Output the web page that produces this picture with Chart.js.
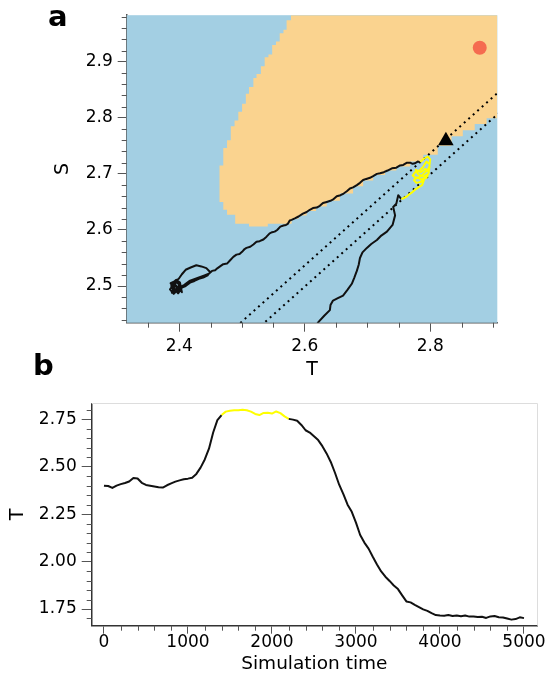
<!DOCTYPE html>
<html>
<head>
<meta charset="utf-8">
<script src="https://cdn.jsdelivr.net/npm/chart.js@4.4.1/dist/chart.umd.min.js"></script>
<style>
	html, body { margin: 0; padding: 0; background: #fff; }
	#wrap { position: relative; width: 548px; height: 682px; overflow: hidden; }
	canvas { position: absolute; left: 0; }
	.tag { position: absolute; font: bold 29px "DejaVu Sans"; line-height: 29px; color: #000; }
</style>
</head>
<body>
<div id="wrap">
	<canvas id="phase" width="548" height="385" style="top:0"></canvas>
	<canvas id="series" width="548" height="297" style="top:385px"></canvas>
	<div class="tag" style="left:48px; top:2px">a</div>
	<div class="tag" style="left:33px; top:351px">b</div>
</div>
<script>
// ---- panel a: phase plane (T, S) ----
const phaseTicksT = [2.4, 2.6, 2.8];
const phaseTicksS = [2.5, 2.6, 2.7, 2.8, 2.9];

// orange region (other basin), traced along its edge
const regionT = [2.578, 2.907, 2.907, 2.890, 2.871, 2.852, 2.834, 2.812, 2.789, 2.768, 2.746, 2.728, 2.709,
	2.693, 2.677, 2.656, 2.635, 2.618, 2.603, 2.590, 2.579, 2.571, 2.541, 2.541, 2.511, 2.511, 2.489, 2.489,
	2.476, 2.476, 2.470, 2.470, 2.464, 2.464, 2.470, 2.470, 2.476, 2.476, 2.482, 2.482, 2.488, 2.488, 2.494,
	2.494, 2.500, 2.500, 2.506, 2.506, 2.511, 2.511, 2.518, 2.518, 2.523, 2.523, 2.530, 2.530, 2.536, 2.536,
	2.542, 2.542, 2.548, 2.548, 2.554, 2.554, 2.560, 2.560, 2.566, 2.566, 2.571, 2.571, 2.578, 2.578];
const regionS = [2.983, 2.983, 2.805, 2.799, 2.789, 2.778, 2.767, 2.750, 2.734, 2.722, 2.713, 2.706, 2.698,
	2.688, 2.678, 2.665, 2.652, 2.642, 2.634, 2.626, 2.620, 2.611, 2.611, 2.606, 2.606, 2.611, 2.611, 2.627,
	2.627, 2.636, 2.636, 2.650, 2.650, 2.715, 2.715, 2.746, 2.746, 2.760, 2.760, 2.785, 2.785, 2.795, 2.795,
	2.811, 2.811, 2.825, 2.825, 2.843, 2.843, 2.855, 2.855, 2.871, 2.871, 2.878, 2.878, 2.892, 2.892, 2.908,
	2.908, 2.913, 2.913, 2.930, 2.930, 2.936, 2.936, 2.951, 2.951, 2.957, 2.957, 2.974, 2.974, 2.983];

// trajectory before, during (yellow) and after the plateau
const approachT = [2.398, 2.393, 2.389, 2.395, 2.388, 2.392, 2.386, 2.394, 2.400, 2.397, 2.391, 2.385, 2.390,
	2.396, 2.402, 2.397, 2.389, 2.393, 2.399, 2.404, 2.401, 2.395, 2.387, 2.392, 2.398, 2.404, 2.410, 2.417,
	2.424, 2.431, 2.438, 2.445, 2.449, 2.443, 2.435, 2.427, 2.418, 2.410, 2.404, 2.399, 2.391, 2.387, 2.393,
	2.401, 2.408, 2.416, 2.428, 2.440, 2.447, 2.452, 2.457, 2.461, 2.466, 2.470, 2.476, 2.481, 2.486, 2.491,
	2.496, 2.500, 2.504, 2.507, 2.513, 2.518, 2.523, 2.528, 2.534, 2.539, 2.544, 2.548, 2.552, 2.556, 2.561,
	2.566, 2.570, 2.573, 2.576, 2.579, 2.585, 2.590, 2.597, 2.603, 2.608, 2.613, 2.619, 2.624, 2.629, 2.635,
	2.641, 2.646, 2.651, 2.657, 2.662, 2.667, 2.672, 2.677, 2.683, 2.688, 2.693, 2.698, 2.704, 2.709, 2.715,
	2.720, 2.726, 2.732, 2.739, 2.746, 2.752, 2.757, 2.763, 2.768, 2.772, 2.776, 2.780, 2.784];
const approachS = [2.497, 2.503, 2.496, 2.490, 2.488, 2.499, 2.505, 2.509, 2.503, 2.493, 2.486, 2.494, 2.501,
	2.507, 2.499, 2.490, 2.492, 2.500, 2.496, 2.489, 2.506, 2.511, 2.503, 2.495, 2.487, 2.497, 2.500, 2.506,
	2.509, 2.513, 2.515, 2.519, 2.525, 2.532, 2.535, 2.537, 2.533, 2.529, 2.521, 2.513, 2.507, 2.500, 2.494,
	2.498, 2.502, 2.509, 2.514, 2.519, 2.522, 2.527, 2.528, 2.532, 2.536, 2.539, 2.540, 2.546, 2.552, 2.556,
	2.557, 2.561, 2.566, 2.568, 2.570, 2.574, 2.579, 2.580, 2.583, 2.588, 2.594, 2.596, 2.597, 2.600, 2.606,
	2.608, 2.609, 2.611, 2.617, 2.618, 2.621, 2.624, 2.629, 2.632, 2.636, 2.639, 2.640, 2.643, 2.648, 2.650,
	2.652, 2.655, 2.660, 2.662, 2.665, 2.669, 2.674, 2.676, 2.680, 2.684, 2.689, 2.691, 2.693, 2.696, 2.700,
	2.701, 2.703, 2.706, 2.710, 2.711, 2.715, 2.716, 2.720, 2.720, 2.718, 2.719, 2.722, 2.721];
const plateauT = [2.784, 2.790, 2.796, 2.800, 2.799, 2.794, 2.789, 2.783, 2.776, 2.772, 2.778, 2.786, 2.790,
	2.796, 2.799, 2.797, 2.790, 2.781, 2.777, 2.785, 2.792, 2.798, 2.794, 2.785, 2.779, 2.774, 2.778, 2.786,
	2.791, 2.787, 2.781, 2.776, 2.771, 2.767, 2.763, 2.758, 2.754];
const plateauS = [2.721, 2.727, 2.731, 2.726, 2.717, 2.722, 2.713, 2.706, 2.703, 2.697, 2.692, 2.696, 2.701,
	2.707, 2.714, 2.700, 2.695, 2.699, 2.707, 2.703, 2.709, 2.703, 2.693, 2.690, 2.694, 2.689, 2.684, 2.686,
	2.692, 2.680, 2.676, 2.672, 2.667, 2.664, 2.660, 2.657, 2.655];
const exitT = [2.754, 2.749, 2.746, 2.741, 2.744, 2.740, 2.731, 2.722, 2.715, 2.706, 2.699, 2.692, 2.688,
	2.686, 2.683, 2.679, 2.675, 2.668, 2.661, 2.652, 2.645, 2.641, 2.640, 2.631, 2.622, 2.612, 2.600];
const exitS = [2.655, 2.662, 2.647, 2.641, 2.626, 2.609, 2.597, 2.590, 2.582, 2.575, 2.568, 2.560, 2.550,
	2.538, 2.527, 2.515, 2.504, 2.493, 2.483, 2.478, 2.474, 2.466, 2.457, 2.447, 2.436, 2.420, 2.400];

// dotted reference lines, triangle and circle markers
const dottedAT = [2.490, 2.920];
const dottedAS = [2.427, 2.857];
const dottedBT = [2.530, 2.920];
const dottedBS = [2.429, 2.819];
const triangleT = [2.825];
const triangleS = [2.759];
const circleT = [2.879];
const circleS = [2.925];

// ---- panel b: T against simulation time ----
const seriesTicksX = [0, 1000, 2000, 3000, 4000, 5000];
const seriesTicksY = [1.75, 2.00, 2.25, 2.50, 2.75];
const simTime = [
	0, 50, 100, 150, 200, 250, 300, 350, 400, 450,
	500, 550, 600, 650, 700, 750, 800, 850, 900, 950,
	1000, 1050, 1100, 1150, 1200, 1250, 1300, 1350, 1400, 1450,
	1500, 1550, 1600, 1650, 1700, 1750, 1800, 1850, 1900, 1950,
	2000, 2050, 2100, 2150, 2200, 2250, 2300, 2350, 2400, 2450,
	2500, 2550, 2600, 2650, 2700, 2750, 2800, 2850, 2900, 2950,
	3000, 3050, 3100, 3150, 3200, 3250, 3300, 3350, 3400, 3450,
	3500, 3550, 3600, 3650, 3700, 3750, 3800, 3850, 3900, 3950,
	4000, 4050, 4100, 4150, 4200, 4250, 4300, 4350, 4400, 4450,
	4500, 4550, 4600, 4650, 4700, 4750, 4800, 4850, 4900, 4950,
	5000];
const tempSeries = [
	2.400, 2.398, 2.388, 2.400, 2.408, 2.414, 2.422, 2.440, 2.438, 2.415,
	2.404, 2.400, 2.396, 2.392, 2.390, 2.402, 2.412, 2.421, 2.428, 2.434,
	2.437, 2.442, 2.462, 2.495, 2.538, 2.595, 2.680, 2.745, 2.772, 2.790,
	2.795, 2.797, 2.797, 2.800, 2.797, 2.790, 2.778, 2.772, 2.783, 2.784,
	2.780, 2.791, 2.782, 2.765, 2.752, 2.748, 2.742, 2.720, 2.692, 2.680,
	2.660, 2.640, 2.608, 2.570, 2.525, 2.468, 2.405, 2.355, 2.300, 2.262,
	2.205, 2.140, 2.100, 2.068, 2.025, 1.985, 1.948, 1.920, 1.898, 1.874,
	1.855, 1.822, 1.790, 1.785, 1.772, 1.760, 1.748, 1.740, 1.728, 1.718,
	1.716, 1.715, 1.718, 1.713, 1.716, 1.712, 1.716, 1.710, 1.711, 1.708,
	1.709, 1.703, 1.711, 1.713, 1.707, 1.705, 1.700, 1.694, 1.697, 1.706,
	1.702];
const plateauStart = 1400;
const plateauEnd = 2200;

const BLUE = "#a3cfe3";
const ORANGE = "#fad38f";
const YELLOW = "#ffff00";
const INK = "#111";
const AXIS = "#555";

Chart.defaults.font.family = "DejaVu Sans";
Chart.defaults.color = "#000";

const pts = (xs, ys) => xs.map((x, i) => ({ x: x, y: ys[i] }));

// fills the plot area (blue basin)
const plotBackground = {
	id: "plotBackground",
	beforeDatasetsDraw(chart, args, opts) {
		if (!opts.color) return;
		const { ctx, chartArea: a } = chart;
		ctx.save();
		ctx.fillStyle = opts.color;
		ctx.fillRect(a.left, a.top, a.width, a.height);
		ctx.restore();
	},
};

// small unlabeled ticks between the major ones
const minorTicks = {
	id: "minorTicks",
	afterDraw(chart, args, opts) {
		const ctx = chart.ctx;
		ctx.save();
		ctx.strokeStyle = opts.color || AXIS;
		ctx.lineWidth = 1;
		["x", "y"].forEach((id) => {
			const cfg = opts[id];
			if (!cfg) return;
			const scale = chart.scales[id];
			for (let k = Math.ceil(scale.min / cfg.step - 1e-9); k * cfg.step <= scale.max + 1e-9; k++) {
				const v = k * cfg.step;
				if (Math.abs(v / cfg.major - Math.round(v / cfg.major)) < 1e-6) continue;
				const p = Math.round(scale.getPixelForValue(v)) + 0.5;
				ctx.beginPath();
				if (id === "x") {
					ctx.moveTo(p, scale.top);
					ctx.lineTo(p, scale.top + opts.length);
				} else {
					ctx.moveTo(scale.right, p);
					ctx.lineTo(scale.right - opts.length, p);
				}
				ctx.stroke();
			}
		});
		ctx.restore();
	},
};

// faint top and right frame of panel b
const lightFrame = {
	id: "lightFrame",
	afterDraw(chart, args, opts) {
		if (!opts.color) return;
		const { ctx, chartArea: a } = chart;
		ctx.save();
		ctx.strokeStyle = opts.color;
		ctx.lineWidth = 1;
		ctx.beginPath();
		ctx.moveTo(a.left, Math.round(a.top) + 0.5);
		ctx.lineTo(Math.round(a.right) + 0.5, Math.round(a.top) + 0.5);
		ctx.lineTo(Math.round(a.right) + 0.5, a.bottom);
		ctx.stroke();
		ctx.restore();
	},
};

const fixedTicks = (values) => (scale) => {
	scale.ticks = values.map((v) => ({ value: v }));
};

new Chart(document.getElementById("phase"), {
	type: "scatter",
	data: {
		datasets: [
			{
				data: pts(triangleT, triangleS),
				pointStyle: "triangle",
				pointRadius: 9,
				backgroundColor: "#000",
				borderWidth: 0,
				order: 1,
			},
			{
				data: pts(circleT, circleS),
				pointStyle: "circle",
				pointRadius: 7,
				backgroundColor: "#f56b50",
				borderWidth: 0,
				order: 1,
			},
			{
				data: pts(plateauT, plateauS),
				showLine: true,
				borderColor: YELLOW,
				borderWidth: 2,
				pointRadius: 0,
				borderJoinStyle: "round",
				order: 2,
			},
			{
				data: pts(approachT, approachS),
				showLine: true,
				borderColor: INK,
				borderWidth: 2,
				pointRadius: 0,
				borderJoinStyle: "round",
				clip: 0,
				order: 3,
			},
			{
				data: pts(exitT, exitS),
				showLine: true,
				borderColor: INK,
				borderWidth: 2,
				pointRadius: 0,
				borderJoinStyle: "round",
				clip: 0,
				order: 3,
			},
			{
				data: pts(dottedAT, dottedAS),
				showLine: true,
				borderColor: "#000",
				borderWidth: 2,
				borderDash: [2, 4],
				pointRadius: 0,
				clip: 0,
				order: 5,
			},
			{
				data: pts(dottedBT, dottedBS),
				showLine: true,
				borderColor: "#000",
				borderWidth: 2,
				borderDash: [2, 4],
				pointRadius: 0,
				clip: 0,
				order: 5,
			},
			{
				data: pts(regionT, regionS),
				showLine: true,
				stepped: "after",
				fill: "shape",
				backgroundColor: ORANGE,
				borderColor: "rgba(0,0,0,0)",
				borderWidth: 1,
				pointRadius: 0,
				clip: 0,
				order: 10,
			},
		],
	},
	options: {
		responsive: false,
		animation: false,
		events: [],
		layout: { padding: { top: 10, right: 50.7, bottom: 0, left: 0 } },
		scales: {
			x: {
				type: "linear",
				min: 2.316,
				max: 2.907,
				afterBuildTicks: fixedTicks(phaseTicksT),
				afterFit: (s) => { s.height = 62.3; },
				grid: { drawOnChartArea: false, tickLength: 9, tickColor: AXIS, tickWidth: 1 },
				border: { color: AXIS, width: 1.5 },
				ticks: { autoSkip: false, maxRotation: 0, padding: 5, font: { size: 17 }, callback: (v) => v.toFixed(1) },
				title: { display: true, text: "T", font: { size: 19 }, padding: { top: 0, bottom: 3.3 } },
			},
			y: {
				type: "linear",
				min: 2.4346,
				max: 2.983,
				afterBuildTicks: fixedTicks(phaseTicksS),
				afterFit: (s) => { s.width = 126.7; },
				grid: { drawOnChartArea: false, tickLength: 9, tickColor: AXIS, tickWidth: 1 },
				border: { color: AXIS, width: 1.5 },
				ticks: { autoSkip: false, padding: 5, font: { size: 17 }, callback: (v) => v.toFixed(1) },
				title: { display: true, text: "S", font: { size: 19 }, padding: { top: 51.6, bottom: 0 } },
			},
		},
		plugins: {
			legend: { display: false },
			tooltip: { enabled: false },
			plotBackground: { color: BLUE },
			minorTicks: { length: 5, x: { step: 0.05, major: 0.2 }, y: { step: 0.02, major: 0.1 } },
		},
	},
	plugins: [plotBackground, minorTicks],
});

const inPlateau = (x) => x >= plateauStart && x <= plateauEnd;

new Chart(document.getElementById("series"), {
	type: "scatter",
	data: {
		datasets: [
			{
				data: pts(simTime, tempSeries),
				showLine: true,
				borderColor: INK,
				borderWidth: 2,
				pointRadius: 0,
				borderJoinStyle: "round",
				segment: {
					borderColor: (ctx) => (inPlateau(ctx.p0.parsed.x) && inPlateau(ctx.p1.parsed.x) ? YELLOW : INK),
				},
			},
		],
	},
	options: {
		responsive: false,
		animation: false,
		events: [],
		layout: { padding: { top: 18.3, right: 11, bottom: 0, left: 0 } },
		scales: {
			x: {
				type: "linear",
				min: -146,
				max: 5155,
				afterBuildTicks: fixedTicks(seriesTicksX),
				afterFit: (s) => { s.height = 56.3; },
				grid: { drawOnChartArea: false, tickLength: 8, tickColor: AXIS, tickWidth: 1 },
				border: { color: "#333", width: 1.5 },
				ticks: { autoSkip: false, maxRotation: 0, padding: 0, font: { size: 17, lineHeight: 1 }, callback: (v) => String(v) },
				title: { display: true, text: "Simulation time", font: { size: 18.5 }, padding: { top: 0, bottom: 6.9 } },
			},
			y: {
				type: "linear",
				min: 1.662,
				max: 2.834,
				afterBuildTicks: fixedTicks(seriesTicksY),
				afterFit: (s) => { s.width = 91.7; },
				grid: { drawOnChartArea: false, tickLength: 10, tickColor: AXIS, tickWidth: 1 },
				border: { color: "#333", width: 1.5 },
				ticks: { autoSkip: false, padding: 5, font: { size: 17 }, callback: (v) => v.toFixed(2) },
				title: { display: true, text: "T", font: { size: 19 }, padding: { top: 6.9, bottom: 0 } },
			},
		},
		plugins: {
			legend: { display: false },
			tooltip: { enabled: false },
			lightFrame: { color: "#dddddd" },
			minorTicks: { length: 5, x: { step: 200, major: 1000 }, y: { step: 0.05, major: 0.25 } },
		},
	},
	plugins: [minorTicks, lightFrame],
});
</script>
</body>
</html>
